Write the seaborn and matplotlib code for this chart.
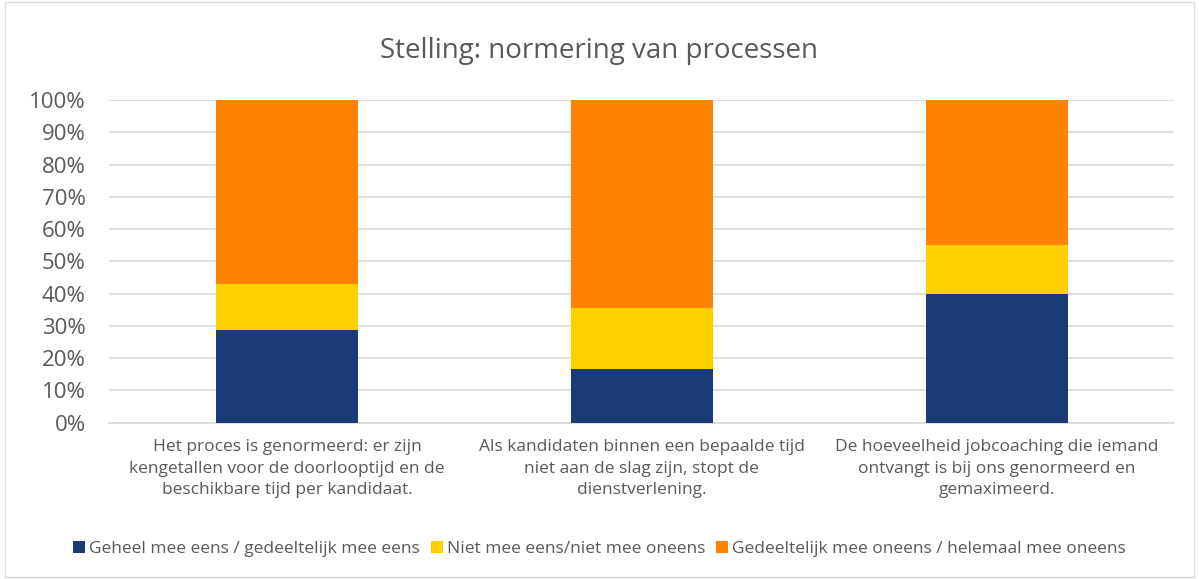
import matplotlib
matplotlib.use("Agg")
import matplotlib.pyplot as plt
import seaborn as sns
import pandas as pd
import numpy as np
from matplotlib.patches import Rectangle, Patch
from matplotlib.ticker import PercentFormatter

categories = [
    "Het proces is genormeerd: er zijn\nkengetallen voor de doorlooptijd en de\nbeschikbare tijd per kandidaat.",
    "Als kandidaten binnen een bepaalde tijd\nniet aan de slag zijn, stopt de\ndienstverlening.",
    "De hoeveelheid jobcoaching die iemand\nontvangt is bij ons genormeerd en\ngemaximeerd.",
]
series_names = [
    "Geheel mee eens / gedeeltelijk mee eens",
    "Niet mee eens/niet mee oneens",
    "Gedeeltelijk mee oneens / helemaal mee oneens",
]
eens = [28.6, 16.7, 40.0]
neutraal = [14.3, 19.0, 15.0]
oneens = [57.1, 64.3, 45.0]
colors = ["#1B3A78", "#FFD000", "#FF8200"]

sns.set_theme(style="white")
plt.rcParams['font.family'] = ['Open Sans', 'DejaVu Sans']
text_color = "#595959"

fig = plt.figure(figsize=(11.99, 5.79), dpi=100)
ax = fig.add_axes([0.0913, 0.27, 0.888, 0.557])

values = [eens, neutraal, oneens]
cum = np.cumsum(np.array(values), axis=0)
df = pd.DataFrame({"cat": categories})
# draw from top layer down
for i in range(2, -1, -1):
    df["v"] = cum[i]
    sns.barplot(data=df, x="cat", y="v", color=colors[i], width=0.4,
                ax=ax, saturation=1, edgecolor="none", linewidth=0, zorder=3)

ax.set_ylim(0, 100)
ax.set_xlim(-0.5, 2.5)
ax.set_yticks(np.arange(0, 101, 10))
ax.yaxis.set_major_formatter(PercentFormatter(decimals=0))
ax.grid(axis="y", color="#D9D9D9", linewidth=1.2, zorder=0)
ax.set_axisbelow(True)
for s in ["top", "right", "left"]:
    ax.spines[s].set_visible(False)
ax.spines["bottom"].set_color("#D9D9D9")
ax.spines["bottom"].set_linewidth(1.2)
ax.set_xlabel("")
ax.set_ylabel("")
ax.tick_params(axis="y", labelsize=16, colors=text_color, length=0, pad=17)
ax.tick_params(axis="x", labelsize=12.5, colors=text_color, length=0, pad=12)
for lbl in ax.get_xticklabels():
    lbl.set_linespacing(1.45)

fig.text(0.5, 0.912, "Stelling: normering van processen", ha="center", va="center",
         fontsize=20, color=text_color)

handles = [Patch(facecolor=c, edgecolor="none") for c in colors]
fig.legend(handles, series_names, loc="center", bbox_to_anchor=(0.5, 0.052), ncol=3,
           frameon=False, fontsize=12.5, labelcolor=text_color, handlelength=0.7,
           handleheight=0.7, handletextpad=0.25, columnspacing=0.6)

fig.patches.append(Rectangle((0.004, 0.004), 0.992, 0.992, transform=fig.transFigure,
                             fill=False, edgecolor="#D9D9D9", linewidth=1))

fig.savefig("out.png", dpi=100)
